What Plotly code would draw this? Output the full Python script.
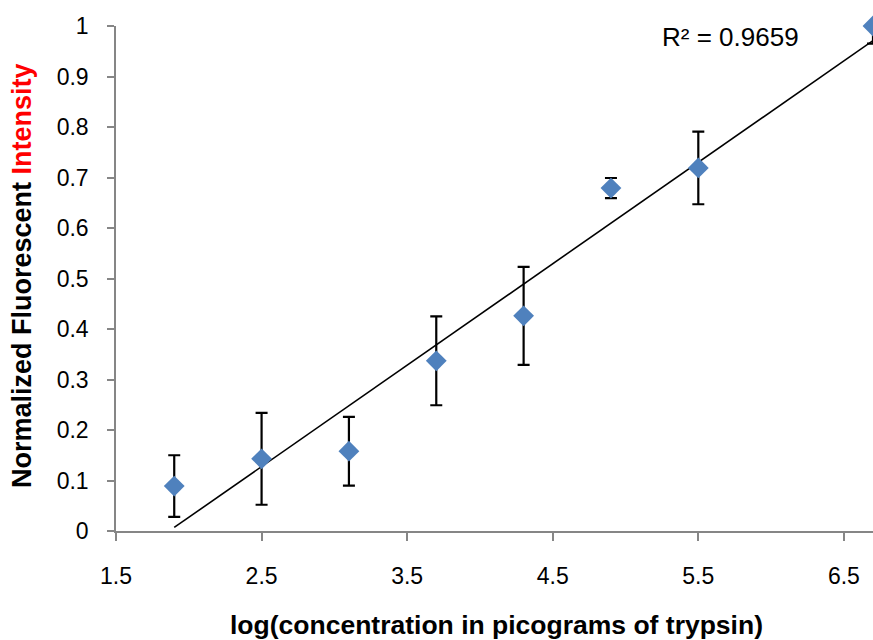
import numpy as np
import plotly.graph_objects as go

# Data
log_conc = [1.9, 2.5, 3.1, 3.7, 4.3, 4.9, 5.5, 6.7]
intensity = [0.089, 0.143, 0.158, 0.337, 0.426, 0.679, 0.719, 1.0]
err = [0.061, 0.091, 0.068, 0.088, 0.097, 0.020, 0.072, 0.035]
x_ticks = [1.5, 2.5, 3.5, 4.5, 5.5, 6.5]
y_ticks = [0, 0.1, 0.2, 0.3, 0.4, 0.5, 0.6, 0.7, 0.8, 0.9, 1]
r2_label = "R² = 0.9659"

FONT = "Liberation Sans, Arial, sans-serif"
AXIS_GRAY = "#868686"

# Linear trendline (least squares), drawn from min x to max x
slope, intercept = np.polyfit(log_conc, intensity, 1)
tx = [min(log_conc), max(log_conc)]
ty = [slope * v + intercept for v in tx]

fig = go.Figure()
fig.add_trace(go.Scatter(
    x=tx, y=ty, mode="lines",
    line=dict(color="black", width=1.6),
    hoverinfo="skip", showlegend=False, cliponaxis=False,
))
fig.add_trace(go.Scatter(
    x=log_conc, y=intensity, mode="markers",
    marker=dict(symbol="diamond", size=16, color="#4F81BD", line=dict(width=0)),
    error_y=dict(type="data", array=err, visible=True, color="black",
                 thickness=2.2, width=6),
    showlegend=False, cliponaxis=False,
))

fig.update_layout(
    width=873, height=640,
    margin=dict(l=116, r=0, t=26, b=109),
    paper_bgcolor="white", plot_bgcolor="white",
    font=dict(family=FONT, color="black", size=23),
    showlegend=False,
    xaxis=dict(
        range=[1.5, 6.7], tickvals=x_ticks, ticktext=[str(v) for v in x_ticks],
        showgrid=False, zeroline=False, showline=True, linecolor=AXIS_GRAY, linewidth=1.5,
        ticks="outside", ticklen=8, tickwidth=1.5, tickcolor=AXIS_GRAY,
        tickfont=dict(size=23, family=FONT, color="black"),
        ticklabelstandoff=16,
    ),
    yaxis=dict(
        range=[0, 1], tickvals=y_ticks, ticktext=[("%g" % v) for v in y_ticks],
        showgrid=False, zeroline=False, showline=True, linecolor=AXIS_GRAY, linewidth=1.5,
        ticks="outside", ticklen=7, tickwidth=1.5, tickcolor=AXIS_GRAY,
        tickfont=dict(size=23, family=FONT, color="black"),
        ticklabelstandoff=14,
    ),
    annotations=[
        dict(text="<b>log(concentration in picograms of trypsin)</b>",
             xref="paper", yref="paper", x=0.503, y=-0.186,
             xanchor="center", yanchor="middle", showarrow=False,
             font=dict(size=26.5, family=FONT, color="black")),
        dict(text="<b>Normalized Fluorescent <span style='color:#FF0000'>Intensity</span></b>",
             xref="paper", yref="paper", x=-0.124, y=0.505, textangle=-90,
             xanchor="center", yanchor="middle", showarrow=False,
             font=dict(size=27, family=FONT, color="black")),
        dict(text=r2_label, xref="paper", yref="paper", x=0.812, y=0.979,
             xanchor="center", yanchor="middle", showarrow=False,
             font=dict(size=26, family=FONT, color="black")),
    ],
)

fig.write_html("out.html")
